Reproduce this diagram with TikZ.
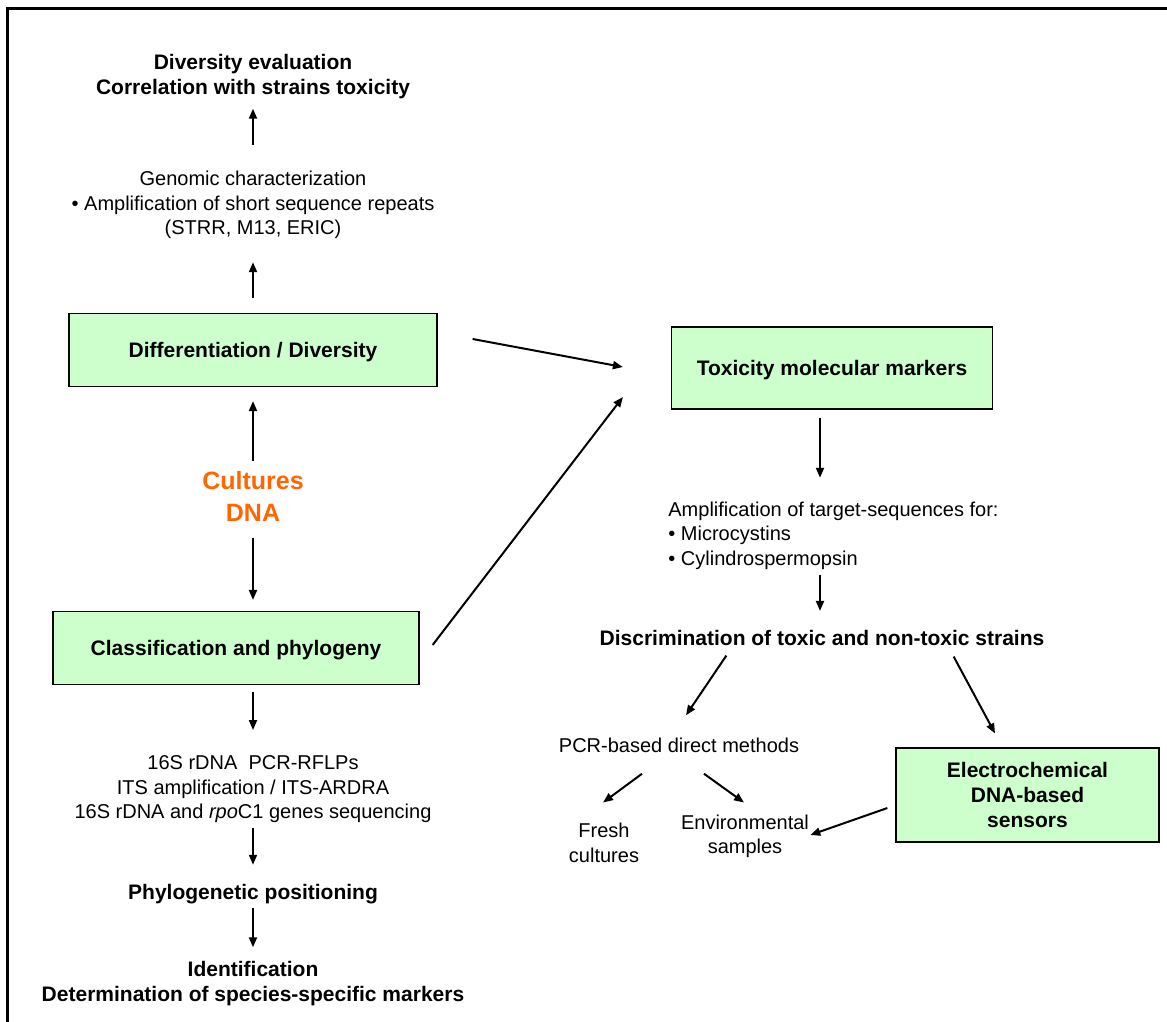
\documentclass[tikz,border=0pt]{standalone}
\usepackage{fontspec}
\setmainfont{Liberation Sans}
\usetikzlibrary{arrows.meta}

\definecolor{boxgreen}{HTML}{CCFFCC}
\definecolor{dnaorange}{HTML}{FF6600}

\begin{document}
\begin{tikzpicture}[x=0.5pt, y=-0.5pt,
  txt/.style={inner sep=0pt, align=center, font=\fontsize{10}{12.25}\selectfont},
  bold/.style={inner sep=0pt, align=center, font=\fontsize{10.5}{12.5}\selectfont\bfseries},
  greenbox/.style={draw=black, line width=0.6pt, fill=boxgreen, align=center,
    font=\fontsize{10.5}{12.5}\selectfont\bfseries},
  oneline/.style={text height=9.7pt, text depth=2.2pt},
  arr/.style={-{Triangle[length=5pt,width=4pt]}, line width=1pt}]

  \useasboundingbox (0,0) rectangle (1167,1022);
  % Frame
  \draw[line width=1.5pt] (7,1022) -- (7,9) -- (1167,9);

  % Left column
  \node[bold] (eval) at (253,77) {Diversity evaluation\\Correlation with strains toxicity};
  \node[txt] (gen) at (253,205)
    {Genomic characterization\\\textbullet{} Amplification of short sequence repeats\\(STRR, M13, ERIC)};
  \node[greenbox, oneline, minimum width=184pt, minimum height=36.5pt] (diff) at (253,350)
    {Differentiation / Diversity};
  \node[inner sep=0pt, align=center, text=dnaorange,
    font=\fontsize{12.5}{16}\selectfont\bfseries] (cult) at (253,496) {Cultures\\DNA};
  \node[greenbox, oneline, minimum width=183pt, minimum height=36.5pt] (class) at (236,648)
    {Classification and phylogeny};
  \node[txt] (seq) at (253,789.5)
    {16S rDNA\ \ PCR-RFLPs\\ITS amplification / ITS-ARDRA\\16S rDNA and \textit{rpo}C1 genes sequencing};
  \node[bold] (phylo) at (253,894) {Phylogenetic positioning};
  \node[bold] (ident) at (253,983.5) {Identification\\Determination of species-specific markers};

  % Right column
  \node[greenbox, oneline, minimum width=160.5pt, minimum height=41pt] (tox) at (832,368)
    {Toxicity molecular markers};
  \node[txt, align=left, anchor=west] (amp) at (668,535.5)
    {Amplification of target-sequences for:\\\textbullet{} Microcystins\\\textbullet{} Cylindrospermopsin};
  \node[bold] (disc) at (822,638) {Discrimination of toxic and non-toxic strains};
  \node[txt] (pcr) at (679,745) {PCR-based direct methods};
  \node[txt] (fresh) at (604,843) {Fresh\\cultures};
  \node[txt] (env) at (745,836.5) {Environmental\\samples};
  \node[greenbox, minimum width=131.5pt, minimum height=47pt] (elec) at (1027.5,795)
    {Electrochemical\\DNA-based\\sensors};

  % Arrows, left column
  \draw[arr] ([yshift=13pt]gen.north) -- ([yshift=-4.5pt]eval.south);
  \draw[arr] ([yshift=7.5pt]diff.north) -- ([yshift=-11.5pt]gen.south);
  \draw[arr] ([yshift=5pt]cult.north) -- ([yshift=-7pt]diff.south);
  \draw[arr] ([yshift=-8.5pt]cult.south) -- ([shift={(17,-11)}]class.north);
  \draw[arr] ([shift={(17,7)}]class.south) -- ([yshift=12.75pt]seq.north);
  \draw[arr] ([yshift=-2.25pt]seq.south) -- ([yshift=9.5pt]phylo.north);
  \draw[arr] ([yshift=-2pt]phylo.south) -- ([yshift=6.75pt]ident.north);

  % Arrows towards the toxicity markers
  \draw[arr] ([shift={(35,-11)}]diff.east) -- ([shift={(-48,-1)}]tox.west);
  \draw[arr] ([shift={(13,-3)}]class.east) -- ([shift={(-48,29)}]tox.west);

  % Arrows, right column
  \draw[arr] ([shift={(-12,8)}]tox.south) -- ([shift={(152,-23.5)}]amp.north west);
  \draw[arr] ([shift={(152,5.5)}]amp.south west) -- ([shift={(-2,-19)}]disc.north);
  \draw[arr] ([shift={(127,9.5)}]disc.south west) -- ([shift={(7,-22)}]pcr.north);
  \draw[arr] ([shift={(-91,10.5)}]disc.south east) -- ([shift={(-32.5,-14)}]elec.north);
  \draw[arr] ([shift={(-37,21)}]pcr.south) -- ([shift={(-1,-20.5)}]fresh.north);
  \draw[arr] ([shift={(25,21)}]pcr.south) -- ([shift={(-1,-12)}]env.north);
  \draw[arr] ([shift={(-8,13)}]elec.west) -- ([shift={(1,-1.5)}]env.east);
\end{tikzpicture}
\end{document}
